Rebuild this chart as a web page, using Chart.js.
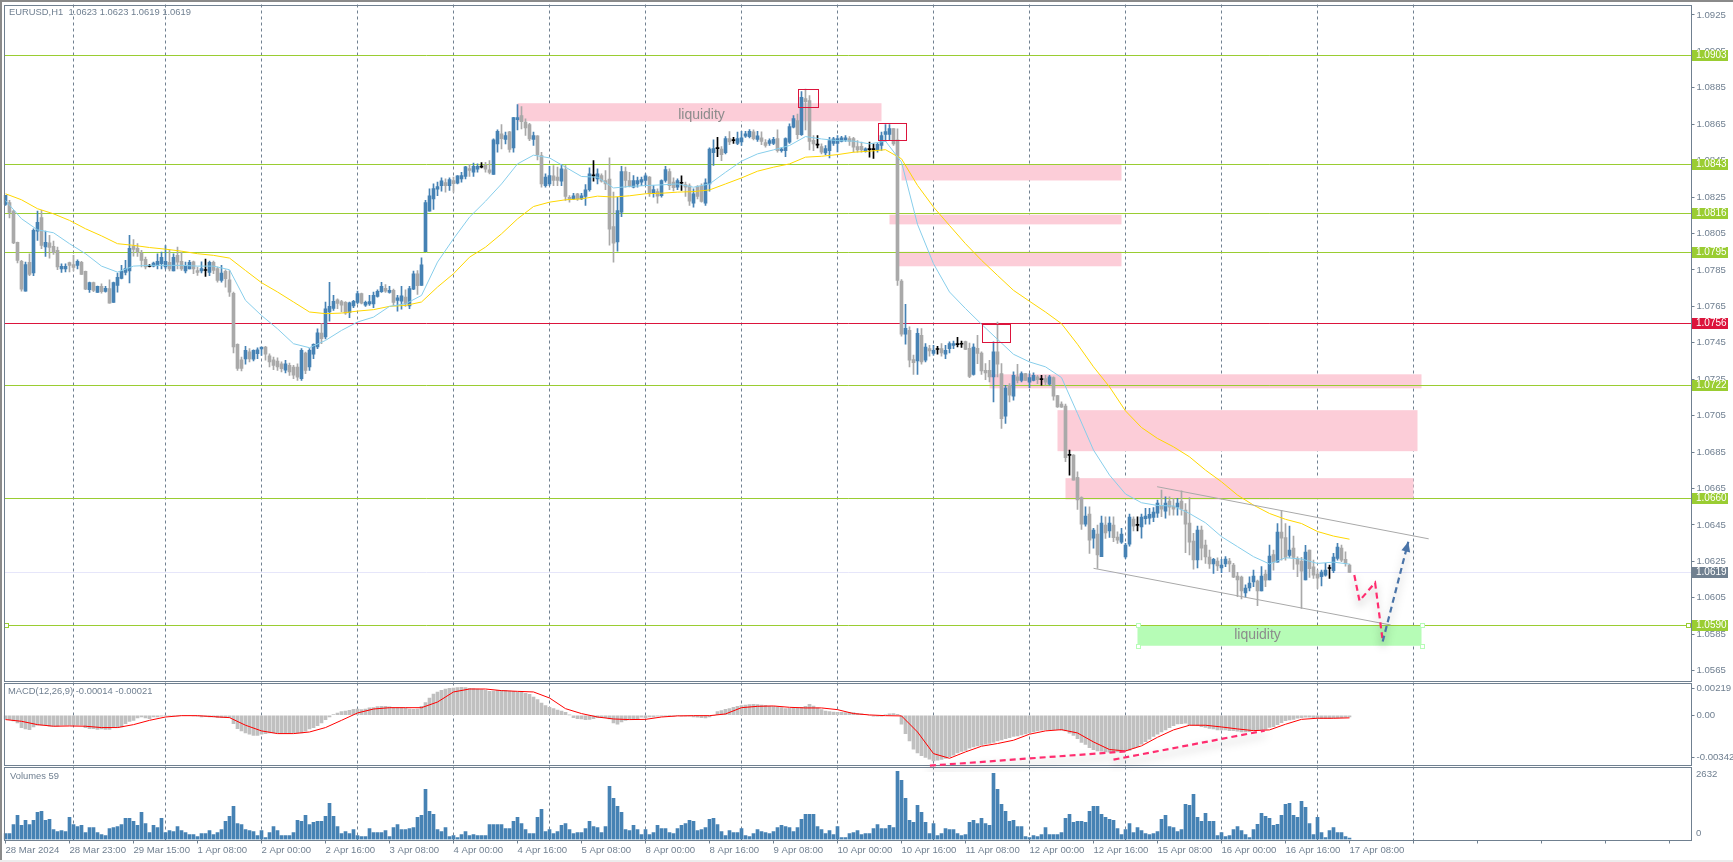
<!DOCTYPE html>
<html>
<head>
<meta charset="utf-8">
<title>EURUSD,H1</title>
<script src="https://cdn.jsdelivr.net/npm/chart.js@4/dist/chart.umd.min.js"></script>
<style>
  html, body { margin: 0; background: #fff; overflow: hidden; }
  #page { position: relative; width: 1733px; height: 862px; background: #fff; }
  #page canvas { position: absolute; left: 0; }
  #edgeL { position: absolute; left: 0; top: 0; width: 2px; height: 860px; background: #8a8a8a; }
  #edgeT { position: absolute; left: 0; top: 0; width: 1733px; height: 2px; background: #8a8a8a; }
  #edgeB { position: absolute; left: 0; top: 860px; width: 1733px; height: 2px; background: #ececec; }
</style>
</head>
<body>
<div id="page">
  <div id="edgeL"></div><div id="edgeT"></div><div id="edgeB"></div>
  <canvas id="mainChart" width="1733" height="682" style="top:0"></canvas>
  <canvas id="macdChart" width="1733" height="100" style="top:672px"></canvas>
  <canvas id="volChart" width="1733" height="102" style="top:760px"></canvas>
</div>
<script>
// prices below are pips above 1.0000 (825.9 = 1.08259), one entry per H1 bar
const opens = [
821,822,817.3,800.1,789.7,773.4,789.2,783.3,806.3,813.8,
797.6,799.9,797.9,795.7,785.5,785.5,789,787.9,787.5,789.2,
784.2,774.1,778,772.7,776,773.2,774.7,767.2,776.5,780.3,
783.6,784.4,797.9,796.8,794.2,790.8,786.9,787,787.5,788.4,
786.6,789.2,784.4,793,789.7,784.4,785.5,789.5,784.7,784.4,
784.7,783.6,789.2,785.8,779.2,784.2,779.6,772.1,744.1,735.7,
736.1,740,736,739,741.6,742.7,737.9,735.7,735,733.5,
730,732.6,731.7,731.7,725.3,739.4,731.7,738.7,742.7,750.3,
748.2,762,763.9,768.6,767.6,767.2,761.7,765.2,767.2,772,
765.7,766.4,766.4,770.5,773,774.9,772.7,773.8,768.3,767.9,
770.1,765.3,774.5,782.9,776.5,795,817.3,824,829.3,831.2,
833,831.3,834.1,832.6,835,836.3,840.7,838.6,840.3,841.4,
842.5,839.9,837.4,854.2,859.7,856.6,860.8,852,867.5,869.7,
866.1,864.8,856.6,858.6,847.8,831.3,832.2,836.6,835.9,833.7,
840.1,824.9,824,826.8,824,825.3,829,836.6,835,836.8,
834.1,834.8,808.8,800.4,816.7,839,834.1,830.4,832.2,833.2,
834.1,835.9,827.3,828,825.7,834.1,839,833.2,830.4,832.6,
831.9,831.2,821.6,830.8,831,821.6,832.2,849.4,851.6,851.3,
849.4,857.1,856,854.4,855.3,858.4,858.2,860.8,856.6,857.5,
854.9,854.4,854.4,857.1,850.5,850.5,855.1,863.3,867,859.3,
879,877.9,856.2,853.5,852.7,849.2,850.5,854.5,854.5,855.6,
856.4,857.1,857.1,852.7,852.8,850,851,851,851,853.3,
859.4,859.4,862.6,856.4,778.9,749.7,751.9,735.8,735.1,749.1,
735.4,741.8,739.1,741.3,741.8,738.7,741.8,743.5,744,744.2,
745.6,742,727.7,742,739.4,729.9,729.9,726.3,740,728.1,
704.7,721.7,715.7,726.3,724.4,728.1,723.4,724.4,726.3,724.8,
725.4,722.3,725.9,716,711.3,710.2,683.2,683.3,671.1,660.1,
645.5,651,637.8,640,627.6,644.9,641.7,645,638.4,635.6,
627.4,634.5,648.2,644.8,643.9,648.4,648.8,649.2,651.5,655.7,
652.6,658.1,655.4,654.8,658.1,653.2,646,636.2,625.8,642.2,
634,627.4,623.6,625.2,621.4,623.6,625.2,623,617,616.4,
607.7,610.4,613.7,614.2,608.8,618,614.8,628.8,624.6,641.1,
638.1,628.3,632.3,626.4,625.2,614.8,631.2,622,618,616.6,
617.5,621.1,619.9,626.6,632.3,626.1,623];
const highs = [
825.9,823.2,817.7,800.3,790.2,789.3,793.9,807.6,817.3,817.7,
806.3,804,800.8,797.6,788.4,788.4,789.3,793,790.6,789.7,
784.4,778.3,778.3,776.1,777.4,776,779.6,778.3,783.3,787.5,
790.2,804,801.7,799.4,795.7,792,788,789.3,793.9,794.8,
798.4,796,793.9,797.5,794.8,789.3,790.2,789.8,786.6,789.5,
791,789.8,789.8,786.6,787.5,785.1,784.7,772.8,744.5,737.2,
743,741.8,741.2,742.3,742.7,743,739,737.2,736.8,734.5,
735.4,733.9,732.6,733.5,741.8,739.9,741.8,744.5,752.7,755.5,
767.4,778.2,771,769.2,768.3,767.6,767.4,768.3,773.4,772.3,
767.9,771,772.8,774.1,778.2,776.9,776,774.5,771,776,
774.1,776,784.4,784.7,791.7,823.2,829.5,832.2,833.2,835.5,
835,835.5,835.9,836.8,838.6,841.8,842.9,843.6,843.2,843.9,
844.1,845,856.9,861.9,864.8,860.6,861.1,868.8,875.8,874.7,
867.9,865.5,860.6,858.8,849.6,837.7,841.8,842.3,841.4,842.9,
842.3,825.8,827.1,827.1,827.1,831.9,841,845,840.5,837.7,
839.6,846.5,827.7,824.9,841.8,841.4,838.6,836.8,835.9,835.9,
837.7,836.3,831.3,829.5,834.4,841.8,840.5,835.5,835,836.6,
833.2,832.2,829.5,831.3,832.2,835,852,856.4,857.8,852.7,
858.2,860.9,857.8,860.6,861.1,861.1,862,861.9,861.1,860.8,
856.6,856.9,857.8,861.9,852,857.5,865.2,869.7,870.6,882.9,
884.3,880.7,858.8,858.8,854.2,853.3,857.8,857.8,858.8,858.4,
858.8,858.2,857.8,856,855.2,852,855.2,854.2,854.6,860.6,
864.8,864.8,862.6,862.5,779.7,766.1,753.7,738.2,752.8,752.8,
744.6,743.6,743.6,743.1,744.6,743.6,745.5,746,748,746,
746,744.9,744.5,749.1,740,733.6,735.4,745.5,756.4,733.6,
721.7,722.6,729,733.2,729,728.1,728.1,728.5,727.2,727.2,
727.2,727.2,726.3,716.2,712.6,711.3,686.1,683.7,674.2,660.5,
655,655,643.1,645,649.9,649.5,649.5,649.5,641.3,643.1,
634.9,651,649.5,649.5,651,654.1,654.1,654.6,658.7,664.1,
660.5,660.5,659.6,659.6,663.8,656.8,660.1,640.4,644.4,644.4,
636.7,631.2,626.7,626.9,626.1,627.6,626.7,623.9,619,617,
612.1,616.6,620.3,614.8,622.1,620.2,633.9,631.2,645.8,653.1,
645.8,644.4,638.9,627.5,627.2,633.8,631.2,625.7,620.2,620.2,
623.9,623,629.4,634.9,633.9,630.3,623.5];
const lows = [
820.4,813.6,799.4,788.8,773.4,773.4,781.8,781.8,801.2,796.6,
792.4,791.5,793.5,785.1,783.7,783.9,783.9,784.4,785.5,782.5,
774.1,772.7,773,772.7,772.3,772.8,766.8,767.2,772.8,780.1,
782.2,777.8,792.6,792.4,786.6,785.5,786.6,786.6,785.6,785.6,
785.6,784.4,784.4,785.6,784.7,783.3,785.5,782.9,782,783.3,
781.4,781.8,782.9,778.3,778.3,775.6,770.5,739.4,729.9,729.5,
733.2,734.5,735,736.3,738.1,735.4,731.7,730.3,729.9,729,
728.4,727.1,725.3,724.4,724.4,728.1,729.9,736.3,741.8,744.5,
747.1,756.9,762.8,763.7,761.9,760.6,758.8,764.3,766.4,766.4,
765,765.5,764.3,770.1,772.7,772.7,772.3,765.5,762.4,763.5,
765,763.7,774.1,771.6,776.5,795,817.3,818.2,825.8,828.2,
827.7,828.6,827.7,832.2,833.2,835,836.3,836.3,838.6,841,
838.6,837.7,837.4,849.6,851.4,854.2,849.6,849.6,861.9,862.4,
858.8,856,853.3,845.4,830.4,830.4,831.3,831.3,831.3,831.3,
823.1,822.2,823.5,823.1,823.5,820.4,828.2,833.7,832.2,833.2,
829,798.6,789.3,795.3,814.3,830.4,830.6,830,830.4,831.3,
831.3,825.3,824.9,821.6,824.9,833.2,829,828.4,829,828.6,
825.3,820.4,819.4,824,822.2,820.4,828.2,842.3,847.2,845,
848.7,853.8,854.5,853.8,853.3,857.8,857.5,856.4,855.6,853.8,
852.4,853.3,853.8,849.6,849.6,847.2,854.5,862.9,856.9,858.8,
861.9,850.9,850.5,852,848.7,848.3,846.5,853.3,849.8,855.3,
855.6,853.3,849.6,849.6,849.7,849.7,846.9,846.2,849.7,850.6,
855.5,856.1,853.3,776.5,748.6,744.2,731.8,727.7,727.7,733.2,
734.5,737.6,738.2,738.7,737.6,736.3,739.4,741.8,742.7,742.4,
741.3,725.9,727.2,733.6,727.7,724.8,723.5,712.6,726.3,698,
700.7,712.6,713.5,723,723.5,724.4,720.4,724.1,722.6,721.7,
721.7,721.7,713.5,709.5,709.5,679.7,672.4,669.6,653.5,642.6,
644.4,629.4,632.2,621.2,627.6,637.6,638.2,635.8,634.9,634.9,
626.7,633.4,641.8,641.8,637.8,645.5,645.5,646.8,649.2,649.5,
648.8,650.4,650.4,650.4,650.4,629.8,628.5,620.8,621.4,625.8,
623.9,621.2,618.4,619.9,618.8,622.1,619.4,616.1,605.6,604.4,
605.3,608.8,611.1,600.7,608.8,611.1,614.8,620.2,624.6,625.7,
625.7,627.2,620.6,616.6,599.2,614.8,616.2,615.7,610.2,611.5,
616.9,615.7,618.8,625.7,624.8,622.4,619];
const closes = [
825.9,816.6,799.8,790.2,774.5,788,782.6,806.7,811.1,798.5,
800.1,797.4,794.6,786.6,787,787,787.5,786.4,789.7,782.5,
774.5,778,773.8,776,773,774.9,766.8,778,780.9,784.2,
785.8,796.8,796.3,794.8,790.2,786.6,786.9,788.8,789.7,791.9,
789.7,785.5,791.9,789.2,785.5,787,789.2,785.5,783.6,785.8,
784.7,789.2,784.7,779.2,783.3,780.2,772.8,742.7,731,731,
740.9,736.1,740.9,741.2,742.7,738.7,734.5,732.6,731.7,730.8,
733.5,729,727.2,726.2,740.9,729.9,740.9,744.1,750.5,747.3,
763.7,765,767.7,766.6,765.7,761.3,767,767.7,772,766.8,
767.2,767.6,771,773.2,776,773.4,773.8,767.2,769.7,770.8,
766.4,774.7,782.9,776.3,787.8,822,825.7,829.7,830.8,833.9,
831.3,834.6,832.3,836.6,836.8,841.6,839.6,841.8,841.8,841.4,
840.3,838.5,856.4,861.1,857.1,858.8,851.1,868.6,868.6,866.4,
863,856.9,858.8,848.3,832.2,835.9,836.8,834.1,834.1,840.5,
825.3,823.5,825.7,824,825.7,829,837.7,836.6,837.7,833.7,
832.2,807.4,799.7,817.6,839,834.1,831,834.1,834.1,834.6,
836.6,826.8,829.1,825.5,834.1,840.1,831.3,830.1,834.1,832.6,
830.4,822.7,826.8,825.3,822.6,832.8,851.3,851.6,851.6,848.3,
857.1,855.3,856,857.1,857.5,859.7,861.1,857.1,858.6,855.5,
853.3,856,856.7,850.5,851.3,857.1,863.7,868.1,859.3,879.8,
877.4,855.6,854.2,853.5,849.6,851.6,856,856.9,857.1,857.5,
857.5,855.6,852.4,850.9,850.9,851.5,851,851,853.9,858.8,
861,862.6,854.2,779.3,749.7,753,735.4,734.1,750.2,734.5,
742.7,740.5,740.9,741.3,739.4,740.9,744.6,744.6,744,744.2,
741.4,726.6,742.6,739.1,729.6,728.5,726.3,740,733.2,703.4,
720.1,716.2,727.2,724.4,728.1,724.4,725.9,727.2,724.8,724.8,
723.4,726.3,715.7,709.8,709.6,681.9,683.2,669.6,658.7,645.5,
649.9,636.7,642.2,628.5,646,640.7,646,638,636.7,640,
634,649.3,644.4,644.8,649.3,649.9,650.8,652.1,657,653.7,
657,654.8,653.7,657,653.7,645.5,635.6,625.8,642.2,632.3,
627.4,623.6,626.1,622.5,623,626.3,623.6,616.4,614.8,608.8,
610.4,613.1,617,608.8,617,614.7,627.9,624.6,641.1,637.8,
627.2,631.2,627.2,623.5,619.7,630.1,621,617.5,615.8,619.1,
620.2,621.1,627.4,632.8,625.7,623.9,619];

// moving averages (the line joins them)
const AVG_STEP = 4;
const fastAvg = [
823.1,813.1,807,805.4,799.4,793.9,787.1,783.8,787.1,787.5,787.5,787.5,787.1,787.1,785.1,768.3,760,752.7,744.5,742.3,
746.3,751.8,756.4,759.1,765,766.4,771,789.3,802.1,814,822.7,832.2,843.2,848,846.5,841.4,836.3,835.9,830,830.8,
831.3,831.7,832.2,830.4,832.2,838.6,844.7,848.7,850.9,853.3,858.2,856.9,856,855.7,854.2,855.7,844.2,810,788.4,772.9,
763.8,755.2,746.9,738.7,734.5,731.8,725.9,706.2,686.1,672.4,662,657.2,655.7,655.4,651.3,646.2,638.6,633.1,627.6,623.6,
627,626.3,623.9,624.6,623.5];
const slowAvg = [
826.8,823.5,818.6,815.8,812.2,807.6,803.7,799.4,798.5,797.3,796.4,795.3,793.9,793,791.5,784.7,778,772.9,767.4,761.9,
761,761.3,762.4,763.2,765,765.5,767.4,775.6,782.9,792,797.5,804.8,813,819.8,822.2,823.5,824,825.5,825,825.7,
826.8,827.1,827.7,828,828.9,832.2,835.5,839.2,841.4,843.2,846.9,847.4,848.3,849.6,850.2,851,846,831.4,819.5,809.4,
799.4,790.3,782,773.8,767.8,761.9,755.5,744.2,731.8,720.8,707.6,698.5,692.5,687.9,682.4,675.1,668.7,661.4,655.9,651.3,
648.1,645.8,641.4,638.9,637.2];

// MACD in 1e-5 units
const macdHist = [
-30,-35,-46,-62,-100,-111,-117,-95,-81,-81,
-81,-89,-89,-89,-81,-81,-81,-81,-81,-81,
-100,-108,-108,-114,-111,-114,-114,-100,-100,-95,
-68,-49,-41,-22,-14,-22,-27,-14,-14,-8,
-5,-5,-5,-5,-3,-3,-3,-5,-8,-14,
-11,-14,-14,-19,-19,-19,-19,-68,-108,-127,
-144,-154,-163,-163,-154,-149,-144,-144,-144,-149,
-149,-149,-144,-144,-144,-130,-111,-100,-84,-62,
-35,-14,5,19,30,35,41,49,51,46,
51,60,62,70,73,73,68,62,62,62,
60,51,49,51,73,103,141,173,190,203,
214,220,222,225,228,225,220,217,214,209,
203,195,198,203,203,203,198,195,190,187,
179,171,149,127,100,79,65,54,43,35,
24,3,-19,-27,-30,-35,-33,-27,-19,-19,
-19,-30,-62,-73,-54,-41,-35,-35,-33,-16,
-19,-14,-14,-8,-8,-8,-3,-8,-3,-8,
-8,-8,-14,-16,-19,-22,-14,-3,30,38,
49,54,65,73,79,84,87,89,87,84,
81,76,73,68,62,54,57,62,60,65,
73,89,76,60,46,35,30,27,24,24,
22,24,22,16,11,5,0,-8,-8,-8,
3,11,14,8,-73,-149,-209,-276,-306,-328,
-344,-358,-371,-366,-360,-352,-339,-325,-306,-295,
-285,-268,-257,-249,-244,-236,-230,-220,-209,-201,
-190,-182,-173,-168,-160,-152,-144,-136,-127,-122,
-119,-117,-117,-117,-122,-127,-146,-163,-190,-220,
-238,-263,-279,-290,-293,-298,-301,-301,-298,-293,
-290,-287,-268,-255,-236,-214,-195,-173,-154,-136,
-119,-100,-84,-70,-68,-65,-79,-81,-84,-92,
-98,-106,-111,-119,-119,-119,-125,-125,-130,-136,
-136,-133,-125,-125,-119,-114,-98,-92,-76,-60,
-43,-38,-33,-24,-19,-16,-16,-19,-22,-27,
-27,-27,-24,-22,-19,-16,-14];
const macdSignal = [
-35,-49,-76,-89,-87,-89,-100,-100,-76,-41,-14,-3,-3,-11,-19,-81,-127,-149,-149,-136,
-100,-41,19,51,62,62,62,108,190,214,214,201,195,190,141,54,14,-14,-30,-35,
-33,-14,-5,-3,-3,11,62,73,76,65,60,60,46,14,3,-3,-5,-136,-312,-350,
-298,-252,-230,-203,-154,-127,-117,-144,-217,-279,-290,-249,-179,-119,-81,-81,-95,-111,-125,-119,
-73,-33,-24,-24,-21];

const volumes = [
232,232,580,929,542,735,580,735,1045,1084,
735,774,387,310,348,310,851,580,503,542,
271,464,464,271,193,155,426,464,503,580,
813,813,697,542,1045,619,271,542,464,813,
271,348,310,503,348,271,193,193,116,232,
232,348,193,271,387,697,890,1277,619,580,
387,348,310,155,348,77,271,503,348,155,
155,155,271,735,697,929,580,658,697,697,
890,1393,890,503,232,310,232,387,155,116,
116,426,271,271,271,348,116,464,580,387,
387,426,464,851,929,1935,1084,967,387,310,
464,116,155,77,193,310,155,193,155,155,
155,580,580,580,580,426,426,697,851,619,
387,232,232,851,1161,310,387,232,310,542,
619,387,232,271,271,426,697,503,464,271,
503,2051,1587,1277,1045,387,348,542,387,193,
387,193,271,542,426,426,271,232,426,542,
619,735,697,348,387,464,774,813,580,310,
155,348,271,271,426,155,116,232,387,310,
271,232,310,464,542,503,464,310,464,774,
967,967,967,503,387,232,348,193,503,77,
77,232,271,348,193,232,232,426,580,426,
426,542,464,2632,2283,1587,735,658,1316,1045,
658,232,619,155,232,426,387,387,232,155,
193,658,735,619,813,619,542,2554,1935,1354,
1084,697,735,503,503,116,77,155,116,194,
464,194,194,194,271,813,968,658,697,697,
658,1084,1277,1277,968,851,774,735,426,194,
387,619,271,464,348,232,194,232,310,774,
929,503,464,310,387,1355,1316,1742,851,697,
1006,697,697,155,271,116,155,387,503,348,
194,77,387,581,1006,890,813,542,581,929,
1355,1393,929,851,1471,1238,619,194,851,271,
77,348,464,271,271,116,59];

const timeLabels = ['28 Mar 2024','28 Mar 23:00','29 Mar 15:00','1 Apr 08:00','2 Apr 00:00','2 Apr 16:00','3 Apr 08:00','4 Apr 00:00',
  '4 Apr 16:00','5 Apr 08:00','8 Apr 00:00','8 Apr 16:00','9 Apr 08:00','10 Apr 00:00','10 Apr 16:00','11 Apr 08:00',
  '12 Apr 00:00','12 Apr 16:00','15 Apr 08:00','16 Apr 00:00','16 Apr 16:00','17 Apr 08:00'];
const LABEL_EVERY = 16;
const daySeparators = [17,40,64,88,112,136,160,184,208,232,256,280,304,328,352];
const priceTicks = [1.0925,1.0905,1.0885,1.0865,1.0845,1.0825,1.0805,1.0785,1.0765,1.0745,1.0725,1.0705,1.0685,1.0665,1.0645,1.0625,1.0605,1.0585,1.0565];
const macdTicks = [0.00219, 0, -0.00342];

// horizontal levels
const levelPrices = [1.0903,1.0843,1.0816,1.0795,1.0756,1.0722,1.0660,1.0590,1.0619];
const levelColors = ['#9ACD32','#9ACD32','#9ACD32','#9ACD32','#DC143C','#9ACD32','#9ACD32','#9ACD32','#E6E6FA'];
const tagColors = ['#9ACD32','#9ACD32','#9ACD32','#9ACD32','#DC143C','#9ACD32','#9ACD32','#9ACD32','#708090'];

// drawn objects: bar index and pips
const zoneFrom = [128,224,221,223.3,246,263,265];
const zoneTo = [219,279,279,279,354,353,352];
const zoneHigh = [876.5,842.7,815.3,795,727.7,708,670.7];
const zoneLow = [866.6,834.1,810,787,720,685.5,659];
const greenZone = [283,354,589.9,578.7];
const boxFrom = [198,218,244];
const boxTo = [203.1,225.1,251.1];
const boxHigh = [884.3,865.8,755.5];
const boxLow = [874.3,856.2,745.5];
const channelTop = [[287.9,666],[355.8,637.4]];
const channelBottom = [[272,621.2],[346.3,590.1]];
const pinkPath = [[337.2,617.5],[338.5,603.4],[342.4,613.3],[344.3,581.5]];
const bluePath = [[344.3,581],[350.7,635.8]];
const macdLines = [[[231.1,-410],[280.6,-293]],[[277,-361],[314.8,-125]]];

const SLOT_COUNT = 422;
const slots = Array.from({ length: SLOT_COUNT }, (_, i) => String(i));
const GRID = '#708090';
const TEXT = '#6f7f90';
const FONT = '"Liberation Sans", Arial, sans-serif';
const TITLE_FONT = '9.4px ' + FONT;
const AREA_LEFT = 3.5;
const AXIS_W = 41.5;

const toPrice = v => 1 + v / 10000;
const toMacd = v => v / 100000;
const sparse = arr => slots.map((_, i) => (i % AVG_STEP === 0 && i / AVG_STEP < arr.length ? arr[i / AVG_STEP] : null));
const candleColor = i => closes[i] > opens[i] ? '#4682B4' : closes[i] < opens[i] ? '#A9A9A9' : '#000000';

Chart.defaults.font.family = FONT;
Chart.defaults.font.size = 9.6;
Chart.defaults.animation = false;
Chart.defaults.responsive = false;
Chart.defaults.devicePixelRatio = 1;
Chart.defaults.plugins.legend.display = false;
Chart.defaults.plugins.tooltip.enabled = false;

// tick labels must not push the plot area in, panels have fixed edges
function noPadding(s) {
  s.paddingLeft = s.paddingRight = s.paddingTop = s.paddingBottom = 0;
}

function xAxis(showLabels) {
  return {
    type: 'category',
    offset: true,
    afterFit: s => { s.height = showLabels ? 22.5 : 0; noPadding(s); },
    grid: {
      offset: false,
      drawTicks: showLabels,
      tickLength: 4,
      color: c => daySeparators.includes(c.index) ? GRID : 'transparent',
      tickColor: c => c.index % LABEL_EVERY === 0 ? GRID : 'transparent',
      tickBorderDash: []
    },
    border: { display: false, dash: [3, 3] },
    ticks: {
      display: showLabels,
      autoSkip: false,
      maxRotation: 0,
      minRotation: 0,
      align: 'start',
      padding: 1,
      color: TEXT,
      callback: (v, i) => (i % LABEL_EVERY === 0 && timeLabels[i / LABEL_EVERY]) || ''
    }
  };
}

function yAxis(extra) {
  return Object.assign({
    position: 'right',
    afterFit: s => { s.width = AXIS_W; noPadding(s); },
    grid: { drawOnChartArea: false, tickLength: 3, color: GRID },
    border: { display: false }
  }, extra);
}

function frame(chart) {
  const a = chart.chartArea, c = chart.ctx;
  c.save();
  c.strokeStyle = GRID;
  c.lineWidth = 1;
  c.strokeRect(4.5, Math.round(a.top) + 0.5, Math.round(a.right) - 5, Math.round(a.bottom - a.top));
  c.restore();
}

function pt(chart, p) {
  return [chart.scales.x.getPixelForValue(p[0]), chart.scales.y.getPixelForValue(toPrice(p[1]))];
}

function polyline(chart, pts, color, width, dash, shadow) {
  const c = chart.ctx;
  c.save();
  c.strokeStyle = color;
  c.lineWidth = width;
  c.setLineDash(dash || []);
  if (shadow) {
    c.shadowColor = 'rgba(0,0,0,0.35)';
    c.shadowBlur = 9;
    c.shadowOffsetY = 5;
  }
  c.beginPath();
  pts.forEach((p, i) => { i ? c.lineTo(p[0], p[1]) : c.moveTo(p[0], p[1]); });
  c.stroke();
  c.restore();
}

function handle(c, x, y, color) {
  c.save();
  c.fillStyle = '#fff';
  c.strokeStyle = color;
  c.fillRect(Math.round(x) - 2, Math.round(y) - 2, 4, 4);
  c.strokeRect(Math.round(x) - 1.5, Math.round(y) - 1.5, 4, 4);
  c.restore();
}

const mainDecor = {
  id: 'mainDecor',
  beforeDatasetsDraw(chart) {
    const c = chart.ctx, x = chart.scales.x, y = chart.scales.y, a = chart.chartArea;
    c.save();
    c.fillStyle = '#FCCDD8';
    zoneFrom.forEach((f, i) => {
      const t = y.getPixelForValue(toPrice(zoneHigh[i])), b = y.getPixelForValue(toPrice(zoneLow[i]));
      const l = x.getPixelForValue(f), r = x.getPixelForValue(zoneTo[i]);
      c.fillRect(l, t, r - l, b - t);
    });
    c.fillStyle = '#B6FCB6';
    const gl = x.getPixelForValue(greenZone[0]), gr = x.getPixelForValue(greenZone[1]);
    const gt = y.getPixelForValue(toPrice(greenZone[2])), gb = y.getPixelForValue(toPrice(greenZone[3]));
    c.fillRect(gl, gt, gr - gl, gb - gt);
    c.lineWidth = 1;
    levelPrices.forEach((p, i) => {
      const py = Math.round(y.getPixelForValue(p)) + 0.5;
      c.strokeStyle = levelColors[i];
      c.beginPath();
      c.moveTo(5, py);
      c.lineTo(a.right, py);
      c.stroke();
    });
    c.fillStyle = '#8c8c8c';
    c.font = '14px ' + FONT;
    c.textAlign = 'center';
    c.textBaseline = 'middle';
    c.fillText('liquidity', x.getPixelForValue(174), y.getPixelForValue(toPrice(870)));
    c.fillText('liquidity', x.getPixelForValue(313), y.getPixelForValue(toPrice(584.4)));
    c.restore();
  },
  afterDatasetsDraw(chart) {
    const c = chart.ctx, x = chart.scales.x, y = chart.scales.y, a = chart.chartArea;
    polyline(chart, channelTop.map(p => pt(chart, p)), '#A9A9A9', 1);
    polyline(chart, channelBottom.map(p => pt(chart, p)), '#A9A9A9', 1);
    c.save();
    c.strokeStyle = '#DC143C';
    c.lineWidth = 1;
    boxFrom.forEach((f, i) => {
      const l = Math.round(x.getPixelForValue(f)) + 0.5, r = Math.round(x.getPixelForValue(boxTo[i])) + 0.5;
      const t = Math.round(y.getPixelForValue(toPrice(boxHigh[i]))) + 0.5, b = Math.round(y.getPixelForValue(toPrice(boxLow[i]))) + 0.5;
      c.strokeRect(l, t, r - l, b - t);
    });
    c.restore();
    polyline(chart, pinkPath.map(p => pt(chart, p)), '#FF2D6F', 2.2, [6, 4], true);
    const blue = bluePath.map(p => pt(chart, p));
    polyline(chart, blue, '#4A74A8', 2.2, [6, 4], true);
    const [p0, p1] = blue;
    const ang = Math.atan2(p1[1] - p0[1], p1[0] - p0[0]);
    c.save();
    c.fillStyle = '#4A74A8';
    c.beginPath();
    c.moveTo(p1[0], p1[1]);
    c.lineTo(p1[0] - 11 * Math.cos(ang - 0.42), p1[1] - 11 * Math.sin(ang - 0.42));
    c.lineTo(p1[0] - 11 * Math.cos(ang + 0.42), p1[1] - 11 * Math.sin(ang + 0.42));
    c.closePath();
    c.fill();
    c.restore();
    // anchors on selected objects
    const level590 = y.getPixelForValue(1.0590);
    handle(c, 6, level590, '#9ACD32');
    handle(c, a.right - 4, level590, '#9ACD32');
    const gl = x.getPixelForValue(greenZone[0]), gr = x.getPixelForValue(greenZone[1]);
    const gt = y.getPixelForValue(toPrice(greenZone[2])), gb = y.getPixelForValue(toPrice(greenZone[3]));
    [[gl, gt], [gr, gt], [gl, gb], [gr, gb]].forEach(h => handle(c, h[0], h[1], '#B6FCB6'));
    frame(chart);
    // price tags over the axis
    c.save();
    c.font = '10px ' + FONT;
    c.textBaseline = 'middle';
    c.textAlign = 'left';
    levelPrices.forEach((p, i) => {
      const py = Math.round(y.getPixelForValue(p));
      c.fillStyle = tagColors[i];
      c.fillRect(1692, py - 5, 36, 11);
      c.fillStyle = '#fff';
      c.fillText(p.toFixed(4), 1696, py + 0.5);
    });
    c.fillStyle = TEXT;
    c.font = TITLE_FONT;
    c.fillText('EURUSD,H1  1.0623 1.0623 1.0619 1.0619', 9, 12.5);
    c.restore();
  }
};

new Chart(document.getElementById('mainChart'), {
  type: 'bar',
  data: {
    labels: slots,
    datasets: [
      { type: 'line', data: sparse(fastAvg).map(v => v === null ? null : toPrice(v)), borderColor: '#87CEEB', borderWidth: 1, pointRadius: 0, spanGaps: true, tension: 0, order: 0 },
      { type: 'line', data: sparse(slowAvg).map(v => v === null ? null : toPrice(v)), borderColor: '#FFD700', borderWidth: 1, pointRadius: 0, spanGaps: true, tension: 0, order: 1 },
      { data: opens.map((o, i) => [toPrice(o), toPrice(closes[i])]), backgroundColor: opens.map((_, i) => candleColor(i)), barThickness: 3, minBarLength: 1, grouped: false, order: 2 },
      { data: lows.map((l, i) => [toPrice(l), toPrice(highs[i])]), backgroundColor: opens.map((_, i) => candleColor(i)), barThickness: 1, grouped: false, order: 3 }
    ]
  },
  options: {
    layout: { padding: { left: AREA_LEFT, top: 4.5, bottom: 2, right: 0 } },
    scales: {
      x: xAxis(false),
      y: yAxis({
        min: 1.05599,
        max: 1.09307,
        afterBuildTicks: s => { s.ticks = priceTicks.map(value => ({ value })); },
        ticks: { color: TEXT, padding: 2, autoSkip: false, callback: v => Number(v).toFixed(4) }
      })
    }
  },
  plugins: [mainDecor]
});

const macdDecor = {
  id: 'macdDecor',
  afterDatasetsDraw(chart) {
    frame(chart);
    const c = chart.ctx, x = chart.scales.x, y = chart.scales.y;
    macdLines.forEach(line => {
      const pts = line.map(p => [x.getPixelForValue(p[0]), y.getPixelForValue(toMacd(p[1]))]);
      polyline(chart, pts, '#FF2D6F', 2.2, [6, 4], true);
    });
    c.save();
    c.fillStyle = TEXT;
    c.font = TITLE_FONT;
    c.textBaseline = 'middle';
    c.fillText('MACD(12,26,9) -0.00014 -0.00021', 8, chart.chartArea.top + 9);
    c.restore();
  }
};

new Chart(document.getElementById('macdChart'), {
  type: 'bar',
  data: {
    labels: slots,
    datasets: [
      { type: 'line', data: sparse(macdSignal).map(v => v === null ? null : toMacd(v)), borderColor: '#FF0000', borderWidth: 1, pointRadius: 0, spanGaps: true, tension: 0, order: 0 },
      { data: macdHist.map(toMacd), backgroundColor: '#C0C0C0', barThickness: 3, grouped: false, order: 1 }
    ]
  },
  options: {
    layout: { padding: { left: AREA_LEFT, top: 10.5, bottom: 7.7, right: 0 } },
    scales: {
      x: xAxis(false),
      y: yAxis({
        min: -0.00399,
        max: 0.00267,
        afterBuildTicks: s => { s.ticks = macdTicks.map(value => ({ value })); },
        ticks: { color: TEXT, padding: 2, autoSkip: false, callback: v => v === 0 ? '0.00' : Number(v).toFixed(5) }
      })
    }
  },
  plugins: [macdDecor]
});

const volDecor = {
  id: 'volDecor',
  afterDatasetsDraw(chart) {
    frame(chart);
    const c = chart.ctx, a = chart.chartArea, y = chart.scales.y;
    c.save();
    c.fillStyle = TEXT;
    c.font = '9.6px ' + FONT;
    c.textBaseline = 'middle';
    // these two sit inside the panel edge, not on their value
    c.fillText('2632', 1696, y.getPixelForValue(2632) + 2.7);
    c.fillText('0', 1696, y.getPixelForValue(0) - 6.6);
    c.font = TITLE_FONT;
    c.fillText('Volumes 59', 10, a.top + 9.5);
    c.restore();
  }
};

new Chart(document.getElementById('volChart'), {
  type: 'bar',
  data: {
    labels: slots,
    datasets: [{ data: volumes, backgroundColor: '#4682B4', barThickness: 3, grouped: false }]
  },
  options: {
    layout: { padding: { left: AREA_LEFT, top: 6.5, bottom: 0, right: 0 } },
    scales: {
      x: xAxis(true),
      y: yAxis({ min: 0, max: 2817, grid: { display: false }, ticks: { display: false } })
    }
  },
  plugins: [volDecor]
});
</script>
</body>
</html>
